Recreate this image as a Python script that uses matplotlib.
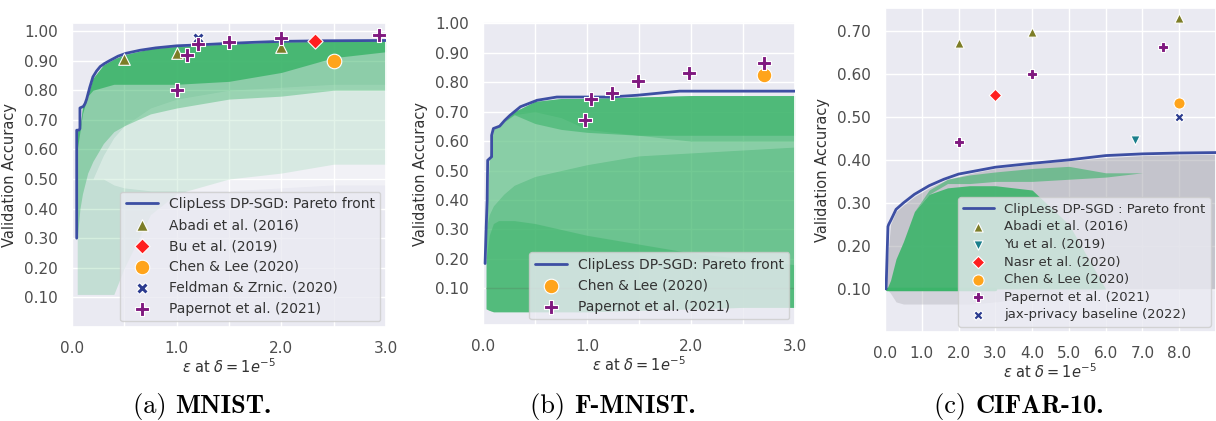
import numpy as np
import matplotlib.pyplot as plt
import seaborn as sns

sns.set_theme(style="darkgrid")
plt.rcParams['font.family'] = ['DejaVu Sans']
plt.rcParams['text.color'] = '.2'
plt.rcParams['axes.labelcolor'] = '.2'
plt.rcParams['xtick.color'] = '.3'
plt.rcParams['ytick.color'] = '.3'

# ---------------- (a) MNIST ----------------
mnist_front_eps = [0.045, 0.045, 0.065, 0.076, 0.076, 0.108, 0.125, 0.14, 0.17, 0.20, 0.235, 0.27,
                   0.31, 0.36, 0.44, 0.52, 0.65, 0.80, 1.00, 1.20, 1.48, 1.75, 1.99, 2.4, 3.0]
mnist_front_acc = [0.30, 0.665, 0.665, 0.67, 0.74, 0.745, 0.755, 0.77, 0.81, 0.845, 0.865, 0.88,
                   0.89, 0.90, 0.915, 0.925, 0.935, 0.943, 0.95, 0.953, 0.958, 0.962, 0.965, 0.967, 0.968]

mnist_cloud_eps = [0.05, 0.076, 0.1, 0.15, 0.2, 0.3, 0.4, 0.5, 0.75, 1.0, 1.5, 2.0, 2.5, 3.0]
mnist_cloud_top = [0.66, 0.67, 0.742, 0.78, 0.84, 0.885, 0.905, 0.92, 0.94, 0.948, 0.956, 0.963, 0.965, 0.966]
mnist_light_low = [0.11, 0.11, 0.11, 0.11, 0.11, 0.11, 0.11, 0.20, 0.38, 0.45, 0.50, 0.52, 0.55, 0.55]
mnist_pale_low = [0.70, 0.70, 0.50, 0.50, 0.50, 0.50, 0.48, 0.47, 0.46, 0.46, 0.46, 0.47, 0.48, 0.48]
mnist_pale_high = [0.70, 0.70, 0.50, 0.50, 0.50, 0.58, 0.64, 0.68, 0.74, 0.77, 0.80, 0.81, 0.82, 0.82]
mnist_mid_low = [0.30, 0.40, 0.45, 0.52, 0.56, 0.62, 0.66, 0.68, 0.72, 0.74, 0.77, 0.78, 0.80, 0.80]
mnist_dense_low = [0.60, 0.66, 0.72, 0.78, 0.80, 0.81, 0.82, 0.82, 0.82, 0.82, 0.83, 0.86, 0.91, 0.93]

mnist_abadi = ([0.5, 1.0, 2.0], [0.907, 0.927, 0.945])
mnist_bu = ([2.32], [0.966])
mnist_chen = ([2.5], [0.90])
mnist_feldman = ([1.2], [0.978])
mnist_papernot = ([1.0, 1.1, 1.2, 1.5, 2.0, 2.93], [0.80, 0.92, 0.955, 0.962, 0.975, 0.985])

# ---------------- (b) F-MNIST ----------------
fm_front_eps = [0.02, 0.03, 0.04, 0.045, 0.083, 0.083, 0.10, 0.16, 0.21, 0.26, 0.36, 0.52, 0.71,
                1.22, 1.48, 1.89, 3.0]
fm_front_acc = [0.184, 0.30, 0.40, 0.535, 0.547, 0.62, 0.643, 0.651, 0.671, 0.688, 0.717, 0.739, 0.75,
                0.75, 0.756, 0.77, 0.77]

fm_cloud_eps = [0.03, 0.06, 0.1, 0.15, 0.2, 0.3, 0.5, 0.75, 1.0, 1.5, 2.0, 2.5, 3.0]
fm_cloud_top = [0.30, 0.54, 0.64, 0.65, 0.665, 0.70, 0.735, 0.745, 0.745, 0.75, 0.755, 0.755, 0.755]
fm_cloud_low = [0.03, 0.025, 0.02, 0.02, 0.02, 0.02, 0.02, 0.02, 0.02, 0.025, 0.03, 0.035, 0.035]
fm_pale_low = [0.30, 0.35, 0.38, 0.40, 0.42, 0.45, 0.48, 0.50, 0.52, 0.55, 0.56, 0.57, 0.58]
fm_pale_high = [0.30, 0.54, 0.64, 0.65, 0.665, 0.69, 0.70, 0.68, 0.64, 0.62, 0.60, 0.60, 0.60]
fm_dense_low = [0.30, 0.54, 0.64, 0.65, 0.665, 0.69, 0.66, 0.64, 0.63, 0.62, 0.62, 0.62, 0.62]
fm_bottom_high = [0.20, 0.28, 0.32, 0.33, 0.33, 0.33, 0.32, 0.30, 0.28, 0.25, 0.22, 0.20, 0.18]

fm_chen = ([2.7], [0.826])
fm_papernot = ([0.98, 1.04, 1.24, 1.49, 1.98, 2.7], [0.672, 0.745, 0.764, 0.804, 0.83, 0.866])

# ---------------- (c) CIFAR-10 ----------------
cf_front_eps = [0.03, 0.05, 0.08, 0.10, 0.16, 0.30, 0.50, 0.80, 1.2, 1.6, 2.0, 2.5, 3.0, 4.0, 5.0,
                6.0, 7.0, 8.0, 9.0]
cf_front_acc = [0.10, 0.16, 0.245, 0.25, 0.26, 0.285, 0.30, 0.32, 0.34, 0.355, 0.367, 0.375, 0.383,
                0.392, 0.40, 0.41, 0.414, 0.416, 0.417]

cf_cloud_eps = [0.05, 0.15, 0.3, 0.5, 0.8, 1.2, 1.7, 2.3, 3.0, 4.0, 5.0, 6.0, 7.0, 8.0, 9.0]
cf_gray_top = [0.15, 0.25, 0.28, 0.295, 0.315, 0.335, 0.355, 0.368, 0.38, 0.39, 0.398, 0.405, 0.41, 0.412, 0.413]
cf_gray_low = [0.10, 0.09, 0.07, 0.065, 0.065, 0.065, 0.065, 0.065, 0.07, 0.08, 0.09, 0.10, 0.10, 0.10, 0.10]
cf_green_top = [0.10, 0.12, 0.17, 0.21, 0.28, 0.32, 0.335, 0.34, 0.34, 0.33, 0.25, 0.10, 0.10, 0.10, 0.10]
cf_streak_low = [0.10, 0.12, 0.17, 0.21, 0.28, 0.32, 0.345, 0.345, 0.35, 0.35, 0.355, 0.36, 0.37, 0.37, 0.37]
cf_streak_top = [0.10, 0.12, 0.17, 0.21, 0.28, 0.33, 0.355, 0.365, 0.372, 0.38, 0.385, 0.37, 0.37, 0.37, 0.37]

cf_abadi = ([2.0, 4.0, 8.0], [0.671, 0.698, 0.729])
cf_yu = ([6.8], [0.447])
cf_nasr = ([3.0], [0.551])
cf_chen = ([8.0], [0.532])
cf_papernot = ([2.0, 4.0, 7.55], [0.441, 0.60, 0.663])
cf_jax = ([8.0], [0.50])

CHANCE = 0.10

front_color = '#3d4fa3'
green = '#3cb46a'
styles = {
    'abadi': dict(marker='^', color='#7d7d27', label='Abadi et al. (2016)'),
    'yu': dict(marker='v', color='#1b7f8c', label='Yu et al. (2019)'),
    'bu': dict(marker='D', color='#ff1f1f', label='Bu et al. (2019)'),
    'nasr': dict(marker='D', color='#ff1f1f', label='Nasr et al. (2020)'),
    'chen': dict(marker='o', color='#ffa41b', label='Chen & Lee (2020)'),
    'feldman': dict(marker='X', color='#2b3b8f', label='Feldman & Zrnic. (2020)'),
    'papernot': dict(marker='P', color='#80197f', label='Papernot et al. (2021)'),
    'jax': dict(marker='X', color='#2b3b8f', label='jax-privacy baseline (2022)'),
}


def fill(ax, x, lo, hi, color, alpha):
    ax.fill_between(x, lo, hi, color=color, alpha=alpha, lw=0, zorder=1)


def points(ax, key, data, s):
    st = styles[key]
    ax.scatter(data[0], data[1], marker=st['marker'], c=st['color'], s=s, edgecolors='white',
               linewidths=0.8, zorder=5, label=st['label'])


def finish(ax, xlim, ylim, xticks, xlabels, yticks):
    ax.set_xlim(xlim)
    ax.set_ylim(ylim)
    ax.set_xticks(xticks)
    ax.set_xticklabels(xlabels)
    ax.set_yticks(yticks)
    ax.set_yticklabels(['%.2f' % t for t in yticks])
    ax.tick_params(labelsize=11, pad=4)
    ax.set_ylabel('Validation Accuracy', fontsize=10.5, labelpad=5)
    ax.set_xlabel(r'$\varepsilon$ at $\delta = 1e^{-5}$', fontsize=10.5, labelpad=1)


fig = plt.figure(figsize=(12.16, 4.21), dpi=100)

# (a)
ax = fig.add_axes([0.0592, 0.2233, 0.2582, 0.722])
fill(ax, mnist_cloud_eps, mnist_light_low, mnist_cloud_top, green, 0.22)
fill(ax, mnist_cloud_eps, mnist_pale_low, mnist_pale_high, 'white', 0.35)
fill(ax, mnist_cloud_eps, mnist_mid_low, mnist_cloud_top, green, 0.4)
fill(ax, mnist_cloud_eps, mnist_dense_low, mnist_cloud_top, green, 0.85)
ax.plot(mnist_front_eps, mnist_front_acc, color=front_color, lw=2, zorder=3,
        label='ClipLess DP-SGD: Pareto front')
points(ax, 'abadi', mnist_abadi, 70)
points(ax, 'bu', mnist_bu, 60)
points(ax, 'chen', mnist_chen, 110)
points(ax, 'feldman', mnist_feldman, 70)
points(ax, 'papernot', mnist_papernot, 110)
finish(ax, (0, 3.0), (0.0, 1.027), np.arange(0, 3.01, 0.5),
       ['0.0', '', '1.0', '', '2.0', '', '3.0'], np.round(np.arange(0.1, 1.001, 0.1), 2))
ax.legend(loc='lower right', fontsize=10, borderaxespad=0.4, handlelength=2.3)

# (b)
ax = fig.add_axes([0.3972, 0.228, 0.2566, 0.7197])
fill(ax, fm_cloud_eps, fm_cloud_low, fm_cloud_top, green, 0.72)
fill(ax, fm_cloud_eps, fm_pale_low, fm_pale_high, 'white', 0.2)
fill(ax, fm_cloud_eps, fm_dense_low, fm_cloud_top, green, 0.6)
fill(ax, fm_cloud_eps, fm_cloud_low, fm_bottom_high, green, 0.5)
ax.plot(fm_cloud_eps, [CHANCE] * len(fm_cloud_eps), color='#4f7d5c', lw=1, alpha=0.35, zorder=2)
ax.plot(fm_front_eps, fm_front_acc, color=front_color, lw=2, zorder=3,
        label='ClipLess DP-SGD: Pareto front')
points(ax, 'chen', fm_chen, 110)
points(ax, 'papernot', fm_papernot, 110)
finish(ax, (0, 3.0), (-0.025, 1.005), np.arange(0, 3.01, 0.5),
       ['0.0', '', '1.0', '', '2.0', '', '3.0'], np.round(np.arange(0.1, 1.001, 0.1), 2))
ax.legend(loc='lower right', fontsize=10, borderaxespad=0.4, handlelength=2.3)

# (c)
ax = fig.add_axes([0.7278, 0.2114, 0.2722, 0.7696])
fill(ax, cf_cloud_eps, CHANCE, cf_gray_top, '#a0a0a8', 0.5)
fill(ax, cf_cloud_eps, cf_gray_low, CHANCE, '#a6a6ae', 0.35)
fill(ax, cf_cloud_eps, CHANCE, cf_green_top, green, 0.9)
fill(ax, cf_cloud_eps, cf_streak_low, cf_streak_top, green, 0.6)
ax.plot(cf_cloud_eps[:9], [CHANCE] * 9, color=green, lw=2.5, zorder=2)
ax.plot(cf_front_eps, cf_front_acc, color=front_color, lw=2, zorder=3,
        label='ClipLess DP-SGD : Pareto front')
points(ax, 'abadi', cf_abadi, 45)
points(ax, 'yu', cf_yu, 45)
points(ax, 'nasr', cf_nasr, 40)
points(ax, 'chen', cf_chen, 65)
points(ax, 'papernot', cf_papernot, 60)
points(ax, 'jax', cf_jax, 45)
finish(ax, (0, 9.0), (0.0, 0.753), np.arange(0, 8.01, 1.0),
       ['%.1f' % t for t in np.arange(0, 8.01, 1.0)], np.round(np.arange(0.1, 0.701, 0.1), 2))
ax.legend(loc='lower right', fontsize=9.5, borderaxespad=0.4, handlelength=2.3, labelspacing=0.35)

# captions: regular "(x) " followed by a bold dataset name, centred as a pair
captions = [(0.166, '(a) ', 'MNIST.'), (0.504, '(b) ', 'F-MNIST.'), (0.838, '(c) ', 'CIFAR-10.')]
renderer = fig.canvas.get_renderer()
for xc, tag, name in captions:
    t1 = fig.text(0, 0.034, tag, ha='left', va='center', fontsize=19, family='cmr10', color='black')
    t2 = fig.text(0, 0.034, name, ha='left', va='center', fontsize=19, family='cmb10', color='black')
    w1 = t1.get_window_extent(renderer).width / fig.bbox.width
    w2 = t2.get_window_extent(renderer).width / fig.bbox.width
    x0 = xc - (w1 + w2) / 2
    t1.set_x(x0)
    t2.set_x(x0 + w1)

fig.savefig('out.png', dpi=100)
